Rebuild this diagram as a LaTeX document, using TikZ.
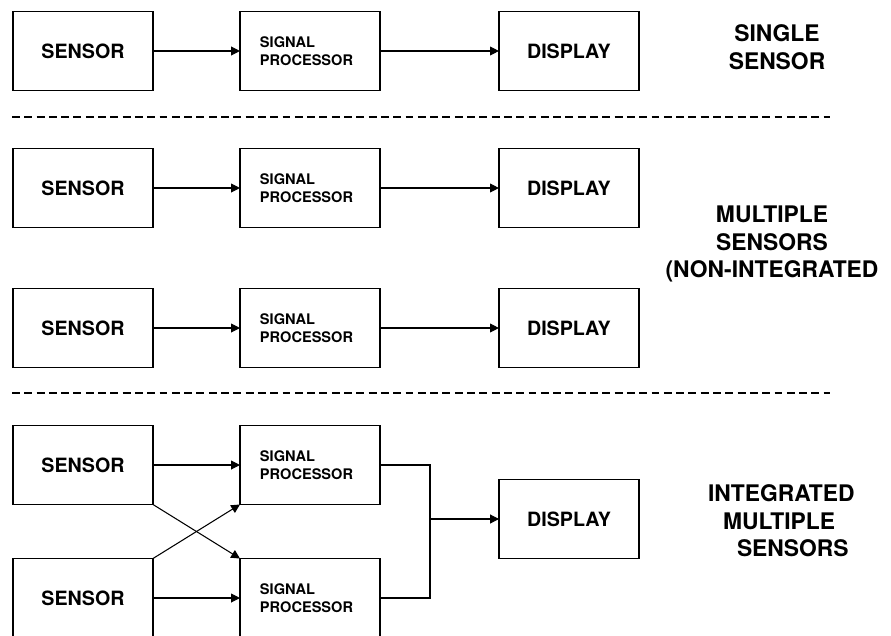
\documentclass[tikz,border=0pt]{standalone}
\usepackage{fontspec}
\setmainfont{TeX Gyre Heros}
\usetikzlibrary{arrows.meta,positioning}
\newcommand{\bxf}{\fontsize{11.2}{13}\selectfont\bfseries}
\newcommand{\spf}{\fontsize{8.3}{10.2}\selectfont\bfseries}
\newcommand{\grpf}{\fontsize{13}{15.6}\selectfont\bfseries}
\begin{document}
\begin{tikzpicture}[x=0.02cm, y=-0.02cm, every node/.style={inner sep=0pt, outer sep=0pt},
  blk/.style={draw, line width=0.85pt, minimum width=2.8cm, minimum height=1.58cm, font=\bxf},
  spbox/.style={blk, font=\spf, text width=2cm, align=left, inner xsep=0.4cm},
  flow/.style={line width=0.6pt, -{Triangle[length=5pt, width=5pt]}},
  sep/.style={line width=0.7pt, dash pattern=on 4.5pt off 2.5pt}]
\path[use as bounding box, clip] (0,0) rectangle (891,635);
% ---- single sensor
\node[blk] (s1) at (83,51) {SENSOR};
\node[spbox, right=1.74cm of s1] (p1) {SIGNAL\\PROCESSOR};
\node[blk, right=2.38cm of p1] (d1) {DISPLAY};
\draw[flow] (s1) -- (p1);
\draw[flow] (p1) -- (d1);
\node[font=\grpf, align=center, text depth=0pt] (g1) at (777,47) {SINGLE\\SENSOR};
\draw[sep] (12,117) -- (830,117);
% ---- multiple sensors, not integrated
\node[blk] (s2) at (83,188) {SENSOR};
\node[spbox, right=1.74cm of s2] (p2) {SIGNAL\\PROCESSOR};
\node[blk, right=2.38cm of p2] (d2) {DISPLAY};
\draw[flow] (s2) -- (p2);
\draw[flow] (p2) -- (d2);
\node[blk] (s3) at (83,328) {SENSOR};
\node[spbox, right=1.74cm of s3] (p3) {SIGNAL\\PROCESSOR};
\node[blk, right=2.38cm of p3] (d3) {DISPLAY};
\draw[flow] (s3) -- (p3);
\draw[flow] (p3) -- (d3);
\node[font=\grpf, align=center] (g2) at (772,244) {MULTIPLE\\SENSORS\\(NON-INTEGRATED};
\draw[sep] (12,393) -- (830,393);
% ---- integrated multiple sensors
\node[blk] (s4) at (83,465) {SENSOR};
\node[spbox, right=1.74cm of s4] (p4) {SIGNAL\\PROCESSOR};
\node[blk] (s5) at (83,598) {SENSOR};
\node[spbox, right=1.74cm of s5] (p5) {SIGNAL\\PROCESSOR};
\node[blk] (d4) at (569,519) {DISPLAY};
\coordinate (j) at (430,519);
\draw[flow] (s4) -- (p4);
\draw[flow] (s5) -- (p5);
\draw[flow] (s4.south east) -- (p5.north west);
\draw[flow] (s5.north east) -- (p4.south west);
\draw[line width=0.6pt] (p4.east) -| (j);
\draw[line width=0.6pt] (p5.east) -| (j);
\draw[flow] (j) -- (d4);
\node[font=\grpf, align=left, anchor=west] (g3) at (708,521)
  {INTEGRATED\\\hspace*{0.3cm}MULTIPLE\\\hspace*{0.58cm}SENSORS};
\end{tikzpicture}
\end{document}
